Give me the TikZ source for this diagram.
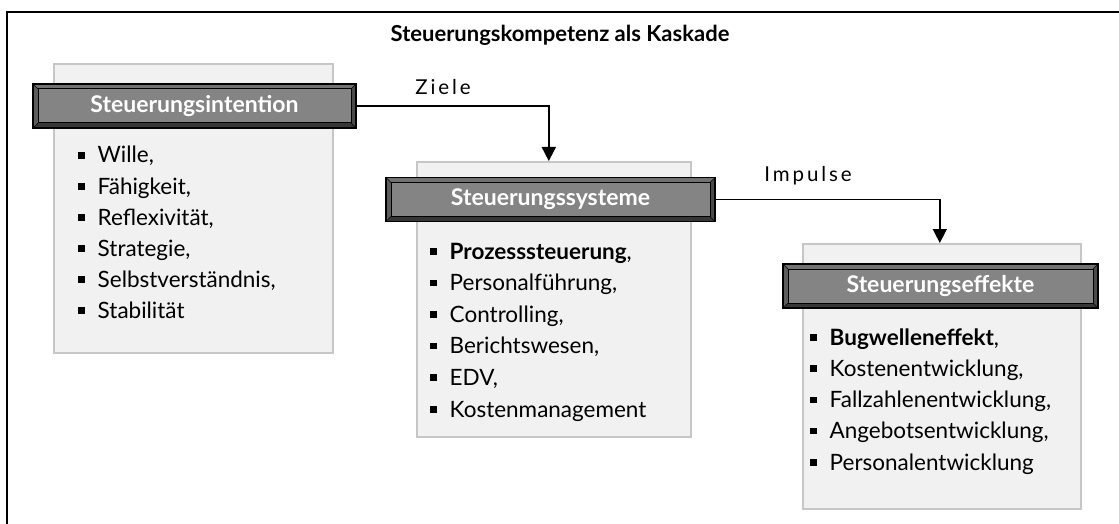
\documentclass[tikz,border=0pt]{standalone}
\usepackage{fontspec}
\setmainfont{Lato}
\usetikzlibrary{arrows.meta}

\definecolor{panelfill}{HTML}{F1F1F1}
\definecolor{panelline}{HTML}{C6C6C6}
\definecolor{barface}{HTML}{848484}
\definecolor{bevtop}{HTML}{727272}
\definecolor{bevleft}{HTML}{5C5C5C}
\definecolor{bevright}{HTML}{4A4A4A}
\definecolor{bevbottom}{HTML}{363636}

\newcommand{\sqbul}{\raisebox{0.2em}{\rule{6.5pt}{6.5pt}}}

\tikzset{
  panel/.style={draw=panelline, line width=1.6pt, fill=panelfill,
    rectangle, inner sep=0pt, anchor=north west},
  bevelbar/.style={draw=black, line width=1.2pt, rectangle, inner sep=0pt,
    minimum height=44pt, text=white,
    font=\bfseries\fontsize{23}{26}\selectfont,
    path picture={
      \path (path picture bounding box.north west) coordinate (pnw)
            (path picture bounding box.north east) coordinate (pne)
            (path picture bounding box.south east) coordinate (pse)
            (path picture bounding box.south west) coordinate (psw);
      \fill[bevtop] (pnw) -- (pne) -- ([shift={(-5pt,-5pt)}]pne) -- ([shift={(5pt,-5pt)}]pnw) -- cycle;
      \fill[bevright] (pne) -- (pse) -- ([shift={(-5pt,5pt)}]pse) -- ([shift={(-5pt,-5pt)}]pne) -- cycle;
      \fill[bevbottom] (pse) -- (psw) -- ([shift={(5pt,5pt)}]psw) -- ([shift={(-5pt,5pt)}]pse) -- cycle;
      \fill[bevleft] (psw) -- (pnw) -- ([shift={(5pt,-5pt)}]pnw) -- ([shift={(5pt,5pt)}]psw) -- cycle;
      \draw[black, line width=0.5pt] (pnw) -- ([shift={(5pt,-5pt)}]pnw)
        (pne) -- ([shift={(-5pt,-5pt)}]pne)
        (pse) -- ([shift={(-5pt,5pt)}]pse)
        (psw) -- ([shift={(5pt,5pt)}]psw);
      \draw[black, line width=1pt, fill=barface]
        ([shift={(5pt,-5pt)}]pnw) rectangle ([shift={(-5pt,5pt)}]pse);
    }},
  listitem/.style={anchor=base west, inner sep=0pt,
    font=\fontsize{22.5}{26}\selectfont},
  flowlabel/.style={inner sep=0pt,
    font=\fontsize{20.5}{24}\selectfont\addfontfeatures{LetterSpace=14}},
  flow/.style={-{Triangle[width=14pt,length=14pt]}, line width=1.8pt}
}

\begin{document}
\begin{tikzpicture}[x=1pt, y=-1pt]
  \useasboundingbox (0,0) rectangle (1119,524);

  % outer frame (top and left edges)
  \draw[line width=2pt] (7,524) -- (7,12) -- (1119,12);

  % title
  \node[font=\bfseries\fontsize{22}{26}\selectfont] (title) at (560,35)
    {Steuerungskompetenz als Kaskade};

  % background panels
  \node[panel, minimum width=279pt, minimum height=289pt] (p1) at (53,63) {};
  \node[panel, minimum width=274pt, minimum height=275pt] (p2) at (416,161) {};
  \node[panel, minimum width=278pt, minimum height=265pt] (p3) at (802,243) {};

  % bevelled header bars
  \node[bevelbar, minimum width=323pt] (b1) at (194.5,106) {Steuerungsintention};
  \node[bevelbar, minimum width=329pt] (b2) at (550.5,199.5) {Steuerungssysteme};
  \node[bevelbar, minimum width=315pt] (b3) at (940.5,286) {Steuerungseffekte};

  % connectors
  \draw[flow] (b1.east) -| ([xshift=-5pt]p2.north);
  \draw[flow, line width=1.5pt] (b2.east) -| ([xshift=-2pt]p3.north);
  \node[flowlabel] (lz) at (443,87) {Ziele};
  \node[flowlabel] (li) at (808,176) {Impulse};

  % first list
  \node[listitem] (a1) at (78,163) {\sqbul\hspace{13pt}Wille,};
  \node[listitem] (a2) at (78,194) {\sqbul\hspace{13pt}Fähigkeit,};
  \node[listitem] (a3) at (78,225) {\sqbul\hspace{13pt}Reflexivität,};
  \node[listitem] (a4) at (78,256) {\sqbul\hspace{13pt}Strategie,};
  \node[listitem] (a5) at (78,287) {\sqbul\hspace{13pt}Selbstverständnis,};
  \node[listitem] (a6) at (78,318) {\sqbul\hspace{13pt}Stabilität};

  % second list
  \node[listitem] (s1) at (430,259) {\sqbul\hspace{13pt}\textbf{Prozesssteuerung},};
  \node[listitem] (s2) at (430,290.6) {\sqbul\hspace{13pt}Personalführung,};
  \node[listitem] (s3) at (430,322.2) {\sqbul\hspace{13pt}Controlling,};
  \node[listitem] (s4) at (430,353.8) {\sqbul\hspace{13pt}Berichtswesen,};
  \node[listitem] (s5) at (430,385.4) {\sqbul\hspace{13pt}EDV,};
  \node[listitem] (s6) at (430,417) {\sqbul\hspace{13pt}Kostenmanagement};

  % third list
  \node[listitem] (e1) at (810,345) {\sqbul\hspace{13pt}\textbf{Bugwelleneffekt},};
  \node[listitem] (e2) at (810,376.3) {\sqbul\hspace{13pt}Kostenentwicklung,};
  \node[listitem] (e3) at (810,407.6) {\sqbul\hspace{13pt}Fallzahlenentwicklung,};
  \node[listitem] (e4) at (810,438.9) {\sqbul\hspace{13pt}Angebotsentwicklung,};
  \node[listitem] (e5) at (810,470.2) {\sqbul\hspace{13pt}Personalentwicklung};
\end{tikzpicture}
\end{document}
